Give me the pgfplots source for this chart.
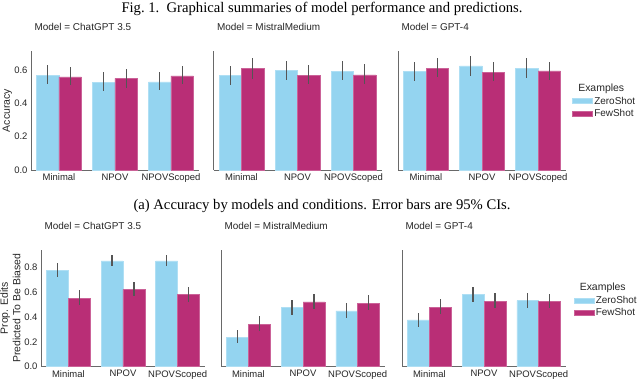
\documentclass[border=0pt]{standalone}
\usepackage{fontspec}
\setmainfont{Liberation Sans}
\newfontfamily\capfont{Liberation Serif}
\usepackage{pgfplots}
\usepackage{pgfplotstable}
\pgfplotsset{compat=1.18}

\definecolor{zs}{RGB}{148,212,240}
\definecolor{fs}{RGB}{185,46,118}
\definecolor{txt}{RGB}{38,38,38}
\definecolor{spine}{RGB}{105,105,105}
\definecolor{err}{RGB}{85,85,85}

% accuracy (top row): mean, CI low, CI high
\pgfplotstableread{
x zs zslo zshi fs fslo fshi
0 0.568 0.514 0.628 0.558 0.508 0.620
1 0.526 0.476 0.588 0.550 0.494 0.608
2 0.528 0.480 0.590 0.564 0.516 0.624
}\accChat
\pgfplotstableread{
x zs zslo zshi fs fslo fshi
0 0.568 0.512 0.626 0.608 0.546 0.670
1 0.596 0.540 0.656 0.566 0.514 0.630
2 0.590 0.540 0.654 0.570 0.514 0.636
}\accMistral
\pgfplotstableread{
x zs zslo zshi fs fslo fshi
0 0.590 0.534 0.648 0.610 0.556 0.672
1 0.624 0.566 0.684 0.586 0.534 0.650
2 0.610 0.554 0.670 0.594 0.540 0.648
}\accGpt

% proportion of edits predicted biased (bottom row)
\pgfplotstableread{
x zs zslo zshi fs fslo fshi
0 0.774 0.722 0.830 0.549 0.493 0.615
1 0.848 0.806 0.896 0.621 0.567 0.682
2 0.848 0.810 0.896 0.581 0.522 0.642
}\biasChat
\pgfplotstableread{
x zs zslo zshi fs fslo fshi
0 0.238 0.190 0.294 0.340 0.284 0.404
1 0.474 0.415 0.535 0.519 0.466 0.586
2 0.447 0.391 0.511 0.509 0.455 0.573
}\biasMistral
\pgfplotstableread{
x zs zslo zshi fs fslo fshi
0 0.375 0.319 0.433 0.477 0.420 0.541
1 0.581 0.522 0.637 0.525 0.469 0.589
2 0.530 0.474 0.589 0.522 0.469 0.583
}\biasGpt

\pgfplotsset{
  panel/.style={
    scale only axis, anchor=south west,
    xmin=-0.5, xmax=2.5, ymin=0,
    axis x line*=bottom, axis y line*=left,
    axis line style={-, draw=spine, line width=0.9bp},
    major tick length=0pt,
    xtick={0,1,2}, xticklabels={Minimal,NPOV,NPOVScoped},
    ticklabel style={font=\fontsize{9.5}{11}\selectfont, text=txt},
    /pgf/number format/assume math mode=true,
    yticklabel style={/pgf/number format/fixed, /pgf/number format/fixed zerofill,
      /pgf/number format/precision=1},
    ylabel style={font=\fontsize{10.5}{12.5}\selectfont, text=txt, anchor=center},
    clip=false,
  },
  toprow/.style={panel, width=168bp, height=119bp, ymax=0.714, ytick={0,0.2,0.4,0.6}},
  botrow/.style={panel, width=164bp, height=116.7bp, ymax=0.936, ytick={0,0.2,0.4,0.6,0.8}},
  zsbar/.style={ybar, bar width=0.4, bar shift=-0.2, fill=zs, draw=zs!75!white, line width=0.6bp},
  fsbar/.style={ybar, bar width=0.4, bar shift=0.2, fill=fs, draw=fs!75!white, line width=0.6bp},
  cibar/.style={draw=none, mark=none, forget plot,
    error bars/y dir=both, error bars/y explicit, error bars/error mark=none,
    error bars/error bar style={draw=err, line width=1.3bp}},
  legbox/.style={legend style={draw=none, fill=none, inner sep=0pt,
      font=\fontsize{10}{12}\selectfont, text=txt, cells={anchor=west},
      nodes={inner sep=1.6bp}, row sep=0.5bp},
    legend image code/.code={\fill[##1] (0bp,-2.5bp) rectangle (20bp,2.5bp);}},
}

\newcommand\paneltitle[1]{\node[anchor=base west, yshift=20bp, text=txt,
  font=\fontsize{10}{12}\selectfont] at (rel axis cs:0,1) {#1};}
% bars of one series, then its confidence intervals as a separate plot
\newcommand\zsplot[1]{\addplot[zsbar] table[x=x, y=zs] {#1};}
\newcommand\fsplot[1]{\addplot[fsbar] table[x=x, y=fs] {#1};}
\newcommand\ciplots[1]{%
  \addplot[cibar] table[x expr=\thisrow{x}-0.2, y=zs,
    y error plus expr=\thisrow{zshi}-\thisrow{zs},
    y error minus expr=\thisrow{zs}-\thisrow{zslo}] {#1};
  \addplot[cibar] table[x expr=\thisrow{x}+0.2, y=fs,
    y error plus expr=\thisrow{fshi}-\thisrow{fs},
    y error minus expr=\thisrow{fs}-\thisrow{fslo}] {#1};}

\begin{document}
\begin{tikzpicture}
\useasboundingbox (0,0) rectangle (640bp,381bp);

\node[font=\capfont\fontsize{14.7}{17}\selectfont, anchor=base] at (322bp,368.7bp)
  {Fig.~1.\ \ Graphical summaries of model performance and predictions.};
\node[font=\capfont\fontsize{14.7}{17}\selectfont, anchor=base] at (322bp,171.7bp)
  {(a) Accuracy by models and conditions. Error bars are 95\% CIs.};

% ---- top row: accuracy
\begin{axis}[toprow, at={(31bp,211bp)},
  ylabel={Accuracy}, ylabel style={at={(axis description cs:-0.14,0.5)}}]
\zsplot{\accChat}
\fsplot{\accChat}
\ciplots{\accChat}
\paneltitle{Model = ChatGPT 3.5}
\end{axis}
\begin{axis}[toprow, at={(213.5bp,211bp)}, yticklabels={}]
\zsplot{\accMistral}
\fsplot{\accMistral}
\ciplots{\accMistral}
\paneltitle{Model = MistralMedium}
\end{axis}
\begin{axis}[toprow, at={(398bp,211bp)}, yticklabels={},
  legbox, legend style={at={(1.035,0.58)}, anchor=west}]
\addlegendimage{empty legend}
\addlegendentry{\hspace*{-16bp}\fontsize{10.5}{12}\selectfont Examples}
\zsplot{\accGpt}
\addlegendentry{ZeroShot}
\fsplot{\accGpt}
\addlegendentry{FewShot}
\ciplots{\accGpt}
\paneltitle{Model = GPT-4}
\end{axis}

% ---- bottom row: share predicted biased
\begin{axis}[botrow, at={(41bp,14.3bp)},
  ylabel={Prop. Edits\\Predicted To Be Biased},
  ylabel style={align=center, at={(axis description cs:-0.187,0.5)}}]
\zsplot{\biasChat}
\fsplot{\biasChat}
\ciplots{\biasChat}
\paneltitle{Model = ChatGPT 3.5}
\end{axis}
\begin{axis}[botrow, at={(221bp,14.3bp)}, yticklabels={}]
\zsplot{\biasMistral}
\fsplot{\biasMistral}
\ciplots{\biasMistral}
\paneltitle{Model = MistralMedium}
\end{axis}
\begin{axis}[botrow, at={(402bp,14.3bp)}, yticklabels={},
  legbox, legend style={at={(1.045,0.57)}, anchor=west}]
\addlegendimage{empty legend}
\addlegendentry{\hspace*{-16bp}\fontsize{10.5}{12}\selectfont Examples}
\zsplot{\biasGpt}
\addlegendentry{ZeroShot}
\fsplot{\biasGpt}
\addlegendentry{FewShot}
\ciplots{\biasGpt}
\paneltitle{Model = GPT-4}
\end{axis}
\end{tikzpicture}
\end{document}
